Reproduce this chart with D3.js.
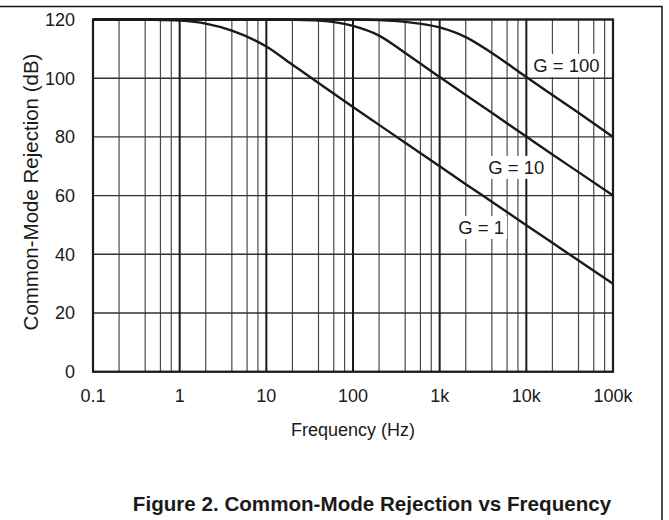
<!DOCTYPE html>
<html>
<head>
<meta charset="utf-8">
<script src="https://cdn.jsdelivr.net/npm/d3@7"></script>
<style>
  body { margin: 0; background: #fff; }
  text { font-family: "Liberation Sans", Arial, sans-serif; fill: #1a1a1a; }
</style>
</head>
<body>
<div id="chart"></div>
<script>
// frequencies (Hz) where the curves were read
var freqs = [0.1, 0.2, 0.5, 1, 2, 4, 10, 20, 40, 100, 200, 400, 1000, 2000, 4000, 10000, 20000, 40000, 100000];

// CMR in dB for each gain
var cmrG1   = [120, 120, 119.9, 119.6, 118.6, 116.2, 110.8, 104.6, 98.4, 90.2, 84.1, 78, 70, 63.9, 57.9, 49.9, 43.9, 37.9, 30];
var cmrG10  = [120, 120, 120, 120, 120, 120, 120, 119.9, 119.6, 117.8, 114.5, 108.6, 100.4, 94.3, 88.2, 80.1, 74, 68, 60];
var cmrG100 = [120, 120, 120, 120, 120, 120, 120, 120, 120, 120, 119.8, 119.2, 117.3, 114, 108.6, 100.4, 94.3, 88.2, 80];

var seriesNames = ['G = 1', 'G = 10', 'G = 100'];
// where each label sits (frequency, dB of baseline)
var labelFreq = [1640, 3640, 12000];
var labelDb   = [46.9, 67.4, 102.1];

var xTicks = [0.1, 1, 10, 100, 1000, 10000, 100000];
var xTickLabels = ['0.1', '1', '10', '100', '1k', '10k', '100k'];
var yTicks = [0, 20, 40, 60, 80, 100, 120];

var width = 669, height = 520;
var margin = {top: 19.5, right: 56, bottom: 148.3, left: 93};

var svg = d3.select('#chart').append('svg')
    .attr('width', width)
    .attr('height', height);

//figure frame (only top and right edges show)
svg.append('path')
    .attr('d', 'M0,6.5H662V520')
    .attr('fill', 'none')
    .attr('stroke', '#111')
    .attr('stroke-width', 1.5);

var x = d3.scaleLog().domain([0.1, 100000]).range([margin.left, width - margin.right]);
var y = d3.scaleLinear().domain([0, 120]).range([height - margin.bottom, margin.top]);

//minor vertical grid (2,4,6,8 of each decade)
var minor = [];
for (var d = 0.1; d < 100000; d *= 10) {
    [2, 4, 6, 8].forEach(function(m) { minor.push(d * m); });
}
svg.selectAll('.minor')
    .data(minor)
    .enter()
    .append('line')
    .attr('class', 'minor')
    .attr('x1', function(d) { return x(d); })
    .attr('x2', function(d) { return x(d); })
    .attr('y1', y(0)).attr('y2', y(120))
    .attr('stroke', '#4a4a4a')
    .attr('stroke-width', 1.2);

//horizontal grid
svg.selectAll('.hgrid')
    .data(yTicks)
    .enter()
    .append('line')
    .attr('x1', x(0.1)).attr('x2', x(100000))
    .attr('y1', function(d) { return y(d); })
    .attr('y2', function(d) { return y(d); })
    .attr('stroke', '#333')
    .attr('stroke-width', 1.4);

//decade lines
svg.selectAll('.major')
    .data(xTicks)
    .enter()
    .append('line')
    .attr('x1', function(d) { return x(d); })
    .attr('x2', function(d) { return x(d); })
    .attr('y1', y(0)).attr('y2', y(120))
    .attr('stroke', '#1a1a1a')
    .attr('stroke-width', 2);

//plot border
svg.append('rect')
    .attr('x', x(0.1)).attr('y', y(120))
    .attr('width', x(100000) - x(0.1))
    .attr('height', y(0) - y(120))
    .attr('fill', 'none')
    .attr('stroke', '#1a1a1a')
    .attr('stroke-width', 2.2);

//tick labels
svg.selectAll('.xt')
    .data(xTicks)
    .enter()
    .append('text')
    .attr('x', function(d) { return x(d); })
    .attr('y', 402)
    .attr('text-anchor', 'middle')
    .style('font-size', '18px')
    .text(function(d, i) { return xTickLabels[i]; });

svg.selectAll('.yt')
    .data(yTicks)
    .enter()
    .append('text')
    .attr('x', 75)
    .attr('y', function(d) { return y(d); })
    .attr('dy', '0.35em')
    .attr('text-anchor', 'end')
    .style('font-size', '18px')
    .text(function(d) { return d; });

//axis titles
svg.append('text')
    .attr('x', 353).attr('y', 436)
    .attr('text-anchor', 'middle')
    .style('font-size', '18px')
    .text('Frequency (Hz)');

svg.append('text')
    .attr('transform', 'translate(37.5,' + 192 + ') rotate(-90)')
    .attr('text-anchor', 'middle')
    .style('font-size', '20.5px')
    .text('Common-Mode Rejection (dB)');

//curves
var line = d3.line()
    .x(function(d) { return x(d[0]); })
    .y(function(d) { return y(d[1]); })
    .curve(d3.curveMonotoneX);

[cmrG1, cmrG10, cmrG100].forEach(function(vals) {
    svg.append('path')
        .datum(freqs.map(function(f, i) { return [f, vals[i]]; }))
        .attr('d', line)
        .attr('fill', 'none')
        .attr('stroke', '#1a1a1a')
        .attr('stroke-width', 2.4);
});

//series labels on white boxes
seriesNames.forEach(function(name, i) {
    var g = svg.append('g');
    var t = g.append('text')
        .attr('x', x(labelFreq[i]))
        .attr('y', y(labelDb[i]))
        .style('font-size', '18.5px')
        .text(name);
    var bb = t.node().getBBox();
    g.insert('rect', 'text')
        .attr('x', bb.x - 3).attr('y', bb.y - 1)
        .attr('width', bb.width + 6).attr('height', bb.height + 2)
        .attr('fill', '#fff');
});

//caption
svg.append('text')
    .attr('x', 372).attr('y', 511)
    .attr('text-anchor', 'middle')
    .style('font-size', '20.6px')
    .style('font-weight', 'bold')
    .text('Figure 2. Common-Mode Rejection vs Frequency');
</script>
</body>
</html>
